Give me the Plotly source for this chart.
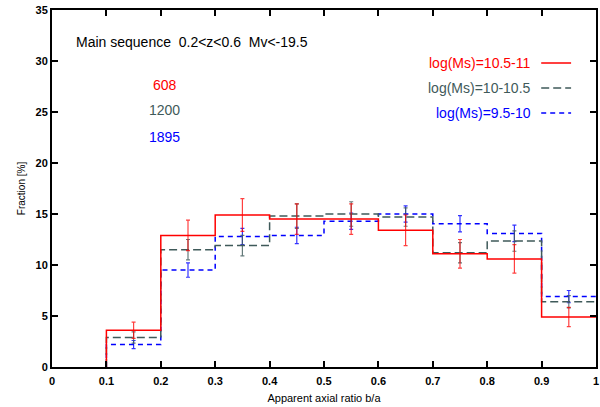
import plotly.graph_objects as go

edges = [0.1, 0.2, 0.3, 0.4, 0.5, 0.6, 0.7, 0.8, 0.9, 1.0]
centers = [0.15, 0.25, 0.35, 0.45, 0.55, 0.65, 0.75, 0.85, 0.95]

red_vals = [3.6, 12.9, 14.9, 14.5, 14.5, 13.4, 11.1, 10.6, 4.9]
red_err = [0.8, 1.5, 1.6, 1.5, 1.5, 1.5, 1.4, 1.4, 0.95]
gray_vals = [2.9, 11.5, 11.9, 14.8, 15.0, 14.7, 11.2, 12.35, 6.4]
gray_err = [0.55, 1.0, 1.0, 1.2, 1.2, 0.9, 1.0, 1.0, 0.6]
blue_vals = [2.2, 9.5, 12.8, 12.9, 14.3, 15.0, 14.05, 13.1, 6.9]
blue_err = [0.4, 0.7, 0.8, 0.8, 0.8, 0.8, 0.8, 0.8, 0.6]

series = [
    ("log(Ms)=10.5-11", "608", red_vals, red_err, "#ff0000", "rgba(255,0,0,0.75)", "solid"),
    ("log(Ms)=10-10.5", "1200", gray_vals, gray_err, "#3f5a5a", "rgba(63,90,90,0.8)", "8px,4px"),
    ("log(Ms)=9.5-10", "1895", blue_vals, blue_err, "#0000ff", "rgba(0,0,255,0.8)", "5px,4px"),
]

FONT = "Liberation Sans, Arial, sans-serif"
fig = go.Figure()

for name, count, vals, errs, col, ecol, dash in reversed(series):
    fig.add_trace(go.Scatter(
        x=[edges[0]] + edges, y=[0] + vals + [vals[-1]], mode="lines", line_shape="hv",
        line=dict(color=col, width=1.5, dash=dash), showlegend=False, hoverinfo="skip"))
    fig.add_trace(go.Scatter(
        x=centers, y=vals, mode="markers", marker=dict(size=0.1, color=ecol),
        error_y=dict(type="data", array=errs, visible=True, color=ecol, thickness=1.2, width=2),
        showlegend=False, hoverinfo="skip"))

annotations = [dict(text="Main sequence  0.2&lt;z&lt;0.6  Mv&lt;-19.5", xref="paper", yref="paper",
                    x=(74 - 52) / 546, y=1 - (42 - 10) / 357, xanchor="left", yanchor="middle",
                    showarrow=False, font=dict(family=FONT, size=14, color="#000000"))]
shapes = []
legend_y = [63, 88, 113]
count_y = [85, 110, 137]
for i, (name, count, vals, errs, col, ecol, dash) in enumerate(series):
    yy = 1 - (legend_y[i] - 10) / 357
    annotations.append(dict(text=name, xref="paper", yref="paper", x=(535 - 52) / 546, y=yy,
                            xanchor="right", yanchor="middle", showarrow=False,
                            font=dict(family=FONT, size=14, color=col)))
    shapes.append(dict(type="line", xref="paper", yref="paper", x0=(543 - 52) / 546, x1=(573 - 52) / 546,
                       y0=yy, y1=yy, line=dict(color=col, width=1.5, dash=dash)))
    annotations.append(dict(text=count, xref="paper", yref="paper", x=(165 - 52) / 546,
                            y=1 - (count_y[i] - 10) / 357, xanchor="center", yanchor="middle",
                            showarrow=False, font=dict(family=FONT, size=14, color=col)))

fig.update_layout(
    width=600, height=407, margin=dict(l=52, r=2, t=10, b=40),
    paper_bgcolor="white", plot_bgcolor="white",
    annotations=annotations, shapes=shapes,
    xaxis=dict(range=[0, 1], tickvals=[0, 0.1, 0.2, 0.3, 0.4, 0.5, 0.6, 0.7, 0.8, 0.9, 1],
               ticktext=["0", "0.1", "0.2", "0.3", "0.4", "0.5", "0.6", "0.7", "0.8", "0.9", "1"],
               ticks="inside", ticklen=6, tickwidth=1.5, tickcolor="black", mirror="ticks",
               showline=True, linecolor="black", linewidth=2, showgrid=False, zeroline=False,
               layer="above traces", ticklabelstandoff=3,
               tickfont=dict(family=FONT, size=11, color="black", weight="bold"),
               title=dict(text="Apparent axial ratio b/a", font=dict(family=FONT, size=11, color="black"),
                          standoff=8)),
    yaxis=dict(range=[0, 35], tickvals=[0, 5, 10, 15, 20, 25, 30, 35],
               ticks="inside", ticklen=6, tickwidth=1.5, tickcolor="black", mirror="ticks",
               showline=True, linecolor="black", linewidth=2, showgrid=False, zeroline=False,
               layer="above traces",
               tickfont=dict(family=FONT, size=11, color="black", weight="bold"),
               title=dict(text="Fraction [%]", font=dict(family=FONT, size=10, color="black"),
                          standoff=8)),
)

fig.write_html("out.html")
